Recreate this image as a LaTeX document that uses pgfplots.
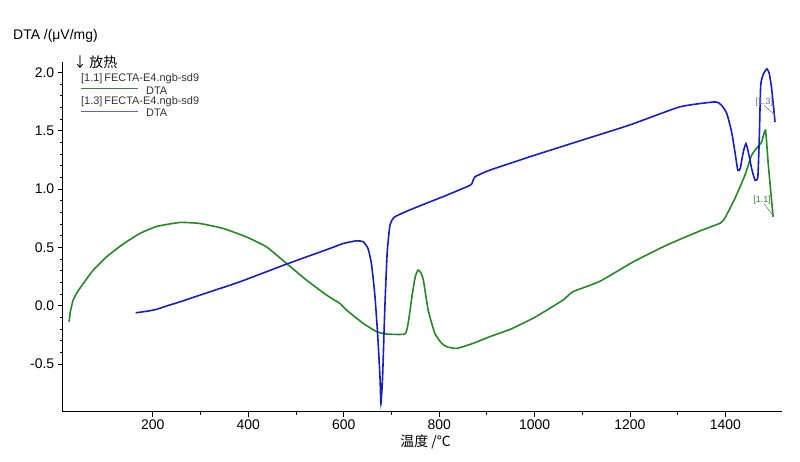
\documentclass[border=0pt]{standalone}
\usepackage{fontspec}
\setmainfont{Liberation Sans}
\newfontfamily\cjk{Noto Sans CJK SC}
\usepackage{pgfplots}
\pgfplotsset{compat=1.18}
\definecolor{dtagreen}{RGB}{40,135,40}
\definecolor{dtablue}{RGB}{25,30,195}
\definecolor{leggreen}{RGB}{60,130,60}
\definecolor{legblue}{RGB}{100,100,200}
\begin{document}
\begin{tikzpicture}
\useasboundingbox (-62.7bp,-50.3bp) rectangle (737.3bp,411.7bp);
\begin{axis}[
 scale only axis, width=719bp, height=349.7bp,
 at={(0,0)}, anchor=south west,
 xmin=11, xmax=1518, ymin=-0.9075, ymax=2.089,
 axis lines=left, axis line style={-, line width=1bp},
 xtick={200,400,600,800,1000,1200,1400},
 ytick={-0.5,0,0.5,1,1.5,2},
 minor x tick num=1, minor y tick num=4,
 tick align=outside, major tick length=5bp, minor tick length=3bp,
 every tick/.style={black, line width=0.8bp},
 tick label style={font=\fontsize{14}{16}\selectfont},
 /pgf/number format/assume math mode=true,
 yticklabel style={/pgf/number format/.cd, fixed, fixed zerofill, precision=1},
 xticklabel style={/pgf/number format/.cd, 1000 sep={}},
 scaled ticks=false,
 clip=false,
]
\addplot[dtagreen, line width=1.6bp, smooth, tension=0.3] coordinates {
(24.5,-0.137)(27,-0.05)(33,0.05)(42,0.12)(54,0.19)(75,0.305)(103,0.42)(138,0.53)
(173,0.62)(208,0.68)(257,0.714)(299,0.705)(347,0.663)(396,0.59)(438,0.505)(480,0.363)
(522,0.22)(564,0.092)(592,0.02)(606,-0.037)(641,-0.151)(669,-0.222)(690,-0.242)
(728,-0.242)(735,-0.151)(744,0.106)(750,0.25)(756,0.306)(762,0.28)(767,0.22)
(777,-0.037)(791,-0.236)(805,-0.32)(816,-0.351)(837,-0.365)(871,-0.322)(906,-0.265)
(950,-0.2)(1000,-0.1)(1060,0.05)(1080,0.12)(1137,0.21)(1207,0.377)(1277,0.52)
(1347,0.642)(1390,0.71)(1400,0.76)(1420,0.92)(1441,1.12)(1455,1.29)(1466,1.353)
(1476,1.404)(1484,1.504)(1490,1.205)(1500,0.762)
};
\addplot[dtablue, line width=1.6bp, smooth, tension=0.3] coordinates {
(164,-0.06)(190,-0.045)(208,-0.03)(230,0.0)(257,0.034)(313,0.111)(382,0.205)
(480,0.357)(571,0.491)(599,0.534)(627,0.557)(641,0.548)(651,0.49)(658,0.363)
(665,0.106)(671,-0.236)(676,-0.608)(678,-0.836)(681.5,-0.608)(686,-0.037)
(691,0.449)(697,0.691)(707,0.762)(746,0.834)(816,0.948)(865,1.033)(870,1.06)
(875,1.105)(906,1.162)(1000,1.29)(1100,1.42)(1200,1.55)(1305,1.705)(1378,1.747)
(1392,1.718)(1403,1.647)(1413,1.49)(1420,1.318)(1426,1.162)(1431,1.176)
(1437.5,1.318)(1443,1.39)(1448,1.318)(1455,1.176)(1462,1.076)(1468,1.105)
(1471,1.433)(1474,1.89)(1480,1.99)(1487,2.03)(1492,1.99)(1497,1.86)(1504,1.575)
};
\end{axis}
% axis titles
\node[anchor=west, inner sep=0pt, font=\fontsize{14}{16}\selectfont] at (-49.7bp,375.7bp) {DTA /(μV/mg)};
\node[anchor=center, inner sep=0pt, font=\fontsize{14}{16}\selectfont\cjk] at (363bp,-30.5bp) {温度 /℃};
% legend
\node[anchor=west, inner sep=0pt, font=\fontsize{10}{12}\selectfont\cjk] at (10.3bp,349bp) {\fontsize{14}{16}\selectfont ↓\,放热};
\node[anchor=west, inner sep=0pt, font=\fontsize{11}{12}\selectfont, text=black!80] at (18.3bp,333.5bp) {[1.1]\,FECTA-E4.ngb-sd9};
\draw[leggreen, line width=1bp] (18.3bp,322.7bp) -- (75.3bp,322.7bp);
\node[anchor=west, inner sep=0pt, font=\fontsize{11}{12}\selectfont, text=black!80] at (83.3bp,321bp) {DTA};
\node[anchor=west, inner sep=0pt, font=\fontsize{11}{12}\selectfont, text=black!80] at (18.3bp,310.2bp) {[1.3]\,FECTA-E4.ngb-sd9};
\draw[legblue, line width=1bp] (18.3bp,300.5bp) -- (75.3bp,300.5bp);
\node[anchor=west, inner sep=0pt, font=\fontsize{11}{12}\selectfont, text=black!80] at (83.3bp,298.8bp) {DTA};
% curve tags
\node[anchor=center, inner sep=0pt, font=\fontsize{9}{10}\selectfont, text=legblue] at (701.6bp,310bp) {[1.3]};
\draw[black!60, line width=0.5bp] (701.6bp,306.2bp) -- (712.3bp,296.7bp);
\node[anchor=center, inner sep=0pt, font=\fontsize{9}{10}\selectfont, text=leggreen] at (699.3bp,211.7bp) {[1.1]};
\draw[black!60, line width=0.5bp] (701.6bp,207.5bp) -- (709.6bp,197.4bp);
\end{tikzpicture}
\end{document}
